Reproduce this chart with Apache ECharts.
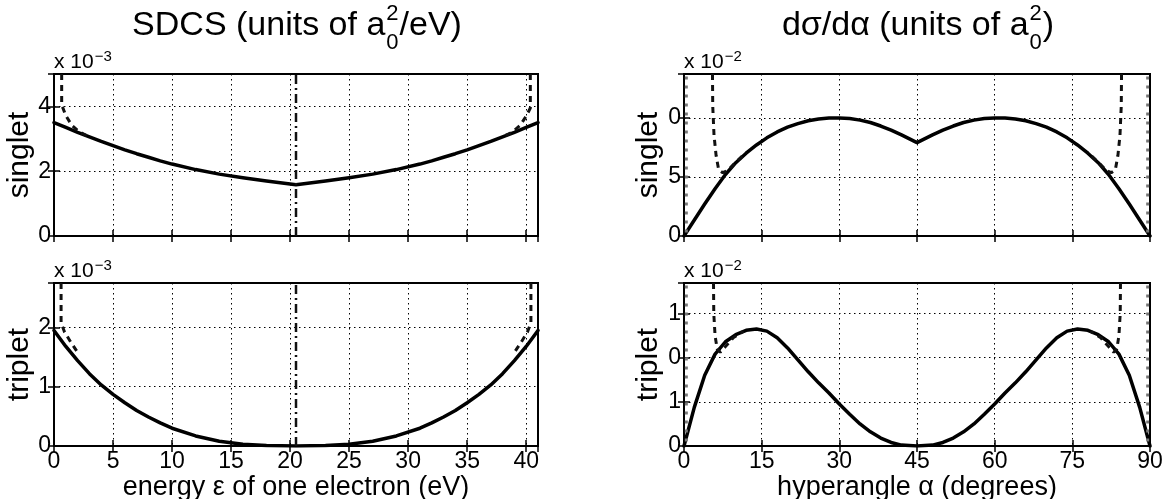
<!DOCTYPE html>
<html><head><meta charset="utf-8">
<script src="https://cdn.jsdelivr.net/npm/echarts@6.0.0/dist/echarts.min.js"></script>
<style>html,body{margin:0;padding:0;background:#fff}#c{width:1167px;height:499px}</style>
</head><body><div id="c"></div><script>
// ---------------- data ----------------
const energyTicks = [0, 5, 10, 15, 20, 25, 30, 35, 40];
const energyTickLabels = ['0', '5', '10', '15', '20', '25', '30', '35', '40'];
const energyMax = 41;
const energyMid = 20.5;

const sdcsSingletTicks = [0, 2, 4];
const sdcsSingletTickLabels = ['0', '2', '4'];
const sdcsSingletMax = 5;
const sdcsTripletTicks = [0, 1, 2];
const sdcsTripletTickLabels = ['0', '1', '2'];
const sdcsTripletMax = 2.75;

const energyX = [0, 1, 2, 3, 4, 5, 6, 7, 8, 9, 10, 12, 14, 16, 18, 20.5, 23, 25, 27, 29, 31, 32, 33, 34, 35, 36, 37, 38, 39, 40, 41];
const sdcsSingletY = [3.50, 3.35, 3.20, 3.06, 2.92, 2.79, 2.66, 2.54, 2.43, 2.32, 2.22, 2.05, 1.91, 1.80, 1.70, 1.58, 1.70, 1.80, 1.91, 2.05, 2.22, 2.32, 2.43, 2.54, 2.66, 2.79, 2.92, 3.06, 3.20, 3.35, 3.50];
const sdcsTripletY = [1.95, 1.68, 1.44, 1.22, 1.03, 0.87, 0.73, 0.60, 0.49, 0.39, 0.30, 0.17, 0.08, 0.03, 0.008, 0, 0.008, 0.03, 0.08, 0.17, 0.30, 0.39, 0.49, 0.60, 0.73, 0.87, 1.03, 1.22, 1.44, 1.68, 1.95];

const sdcsSingletDashLX = [0.65, 0.65, 1.0, 1.5, 2.2, 3.0];
const sdcsSingletDashLY = [5.0, 4.05, 3.72, 3.42, 3.20, 3.06];
const sdcsSingletDashRX = [40.35, 40.35, 40.0, 39.5, 38.8, 38.0];
const sdcsSingletDashRY = [5.0, 3.95, 3.70, 3.42, 3.20, 3.06];
const sdcsTripletDashLX = [0.6, 0.6, 0.9, 1.4, 2.0];
const sdcsTripletDashLY = [2.75, 2.08, 1.92, 1.76, 1.58];
const sdcsTripletDashRX = [40.4, 40.4, 40.1, 39.6, 39.0];
const sdcsTripletDashRY = [2.75, 2.08, 1.92, 1.76, 1.58];

const angleTicks = [0, 15, 30, 45, 60, 75, 90];
const angleTickLabels = ['0', '15', '30', '45', '60', '75', '90'];
const angleMax = 90;

const dsSingletTicks = [0, 5, 10];
const dsSingletTickLabels = ['0', '5', '0'];
const dsSingletMax = 13.7;
const dsTripletTicks = [0, 1, 2, 3];
const dsTripletTickLabels = ['0', '1', '0', '1'];
const dsTripletMax = 3.69;

const angleX = [0, 2, 4, 6, 8, 10, 12, 14, 16, 18, 20, 22, 24, 26, 28, 30, 32, 34, 36, 38, 40, 42, 45, 48, 50, 52, 54, 56, 58, 60, 62, 64, 66, 68, 70, 72, 74, 76, 78, 80, 82, 84, 86, 88, 90];
const dsSingletY = [0, 1.35, 2.7, 4.0, 5.2, 6.2, 7.0, 7.7, 8.3, 8.8, 9.2, 9.5, 9.75, 9.9, 9.97, 9.98, 9.93, 9.8, 9.6, 9.3, 8.95, 8.55, 7.9, 8.55, 8.95, 9.3, 9.6, 9.8, 9.93, 9.98, 9.97, 9.9, 9.75, 9.5, 9.2, 8.8, 8.3, 7.7, 7.0, 6.2, 5.2, 4.0, 2.7, 1.35, 0];
const dsTripletY = [0, 0.88, 1.6, 2.08, 2.36, 2.52, 2.62, 2.65, 2.6, 2.45, 2.22, 1.95, 1.68, 1.43, 1.2, 0.95, 0.72, 0.5, 0.32, 0.18, 0.08, 0.02, 0, 0.02, 0.08, 0.18, 0.32, 0.5, 0.72, 0.95, 1.2, 1.43, 1.68, 1.95, 2.22, 2.45, 2.6, 2.65, 2.62, 2.52, 2.36, 2.08, 1.6, 0.88, 0];

const dsSingletDashLX = [5.5, 5.55, 5.8, 6.2, 6.7, 7.5, 8.5, 10, 12];
const dsSingletDashLY = [13.7, 11, 8.5, 6.8, 5.6, 5.35, 5.55, 6.25, 7.05];
const dsSingletDashRX = [84.5, 84.45, 84.2, 83.8, 83.3, 82.5, 81.5, 80, 78];
const dsSingletDashRY = [13.7, 11, 8.5, 6.8, 5.6, 5.35, 5.55, 6.25, 7.05];
const dsTripletDashLX = [5.7, 5.75, 6.0, 6.4, 7.0, 8.0, 9.5, 11.5];
const dsTripletDashLY = [3.69, 3.0, 2.5, 2.2, 2.12, 2.25, 2.45, 2.6];
const dsTripletDashRX = [84.3, 84.25, 84.0, 83.6, 83.0, 82.0, 80.5, 78.5];
const dsTripletDashRY = [3.69, 3.0, 2.5, 2.2, 2.12, 2.25, 2.45, 2.6];
const edgeAngles = [0.45, 89.55];

// ---------------- chart ----------------
const FONT = "'Liberation Sans', Arial, Helvetica, sans-serif";
const zip = (xs, ys) => xs.map((x, i) => [x, ys[i]]);
const fmt = (ticks, labels) => v => {
  const i = ticks.findIndex(t => Math.abs(t - v) < 1e-6);
  return i < 0 ? '' : labels[i];
};

const L = 54, LW = 484, R = 684, RW = 466;
const T1 = 74, H1 = 162, T2 = 283, H2 = 163;
const grids = [
  {left: L, top: T1, width: LW, height: H1},
  {left: L, top: T2, width: LW, height: H2},
  {left: R, top: T1, width: RW, height: H1},
  {left: R, top: T2, width: RW, height: H2}
].map(g => Object.assign(g, {show: true, borderColor: '#000', borderWidth: 2, containLabel: false, outerBoundsMode: 'none'}));

const xSpec = [
  {max: energyMax, interval: 5, ticks: energyTicks, labels: energyTickLabels, show: false, name: ''},
  {max: energyMax, interval: 5, ticks: energyTicks, labels: energyTickLabels, show: true, name: 'energy \u03B5 of one electron (eV)'},
  {max: angleMax, interval: 15, ticks: angleTicks, labels: angleTickLabels, show: false, name: ''},
  {max: angleMax, interval: 15, ticks: angleTicks, labels: angleTickLabels, show: true, name: 'hyperangle \u03B1 (degrees)'}
];
const ySpec = [
  {max: sdcsSingletMax, interval: 2, ticks: sdcsSingletTicks, labels: sdcsSingletTickLabels, name: 'singlet', exp: '\u22123', gap: 16},
  {max: sdcsTripletMax, interval: 1, ticks: sdcsTripletTicks, labels: sdcsTripletTickLabels, name: 'triplet', exp: '\u22123', gap: 16},
  {max: dsSingletMax, interval: 5, ticks: dsSingletTicks, labels: dsSingletTickLabels, name: 'singlet', exp: '\u22122', gap: 20},
  {max: dsTripletMax, interval: 1, ticks: dsTripletTicks, labels: dsTripletTickLabels, name: 'triplet', exp: '\u22122', gap: 20}
];

const gridLine = {show: true, lineStyle: {color: '#000', width: 1, type: [1.5, 3.5]}};
const tick = {show: true, inside: true, length: 6, lineStyle: {color: '#000', width: 1.5}};
const xAxes = [], yAxes = [];
xSpec.forEach((s, i) => {
  xAxes.push({
    type: 'value', gridIndex: i, min: 0, max: s.max, interval: s.interval,
    axisLine: {show: false}, axisTick: tick,
    splitLine: gridLine,
    axisLabel: {show: s.show, formatter: fmt(s.ticks, s.labels), color: '#000', fontFamily: FONT, fontSize: 23, margin: 4},
    name: s.name, nameLocation: 'middle', nameGap: 25,
    nameTextStyle: {color: '#000', fontFamily: FONT, fontSize: 27, verticalAlign: 'top'}
  });
  xAxes.push({
    type: 'value', gridIndex: i, min: 0, max: s.max, interval: s.interval, position: 'top',
    axisLine: {show: false}, axisTick: tick,
    splitLine: {show: false}, axisLabel: {show: false}
  });
});
ySpec.forEach((s, i) => {
  yAxes.push({
    type: 'value', gridIndex: i, min: 0, max: s.max, interval: s.interval,
    axisLine: {show: false}, axisTick: tick,
    splitLine: gridLine,
    axisLabel: {formatter: fmt(s.ticks, s.labels), color: '#000', fontFamily: FONT, fontSize: 23, margin: 3},
    name: s.name, nameLocation: 'middle', nameGap: s.gap, nameRotate: 90,
    nameTextStyle: {color: '#000', fontFamily: FONT, fontSize: 30}
  });
  yAxes.push({
    type: 'value', gridIndex: i, min: 0, max: s.max, interval: s.interval, position: 'right',
    axisLine: {show: false}, axisTick: tick,
    splitLine: {show: false}, axisLabel: {show: false}
  });
});

function line(gi, data, kind) {
  const base = {type: 'line', xAxisIndex: gi * 2, yAxisIndex: gi * 2, data: data, showSymbol: false, symbol: 'none', silent: true, animation: false, z: 3};
  if (kind === 'solid') base.lineStyle = {color: '#000', width: 3.5, type: 'solid', cap: 'round', join: 'round'};
  if (kind === 'dash') base.lineStyle = {color: '#111', width: 3, type: [6, 5]};
  if (kind === 'dashdot') base.lineStyle = {color: '#111', width: 2.5, type: [9, 4, 2, 4]};
  if (kind === 'edge') base.lineStyle = {color: '#777', width: 3, type: [3, 6]};
  return base;
}
const series = [
  line(0, zip(energyX, sdcsSingletY), 'solid'),
  line(0, zip(sdcsSingletDashLX, sdcsSingletDashLY), 'dash'),
  line(0, zip(sdcsSingletDashRX, sdcsSingletDashRY), 'dash'),
  line(0, [[energyMid, 0], [energyMid, sdcsSingletMax]], 'dashdot'),
  line(1, zip(energyX, sdcsTripletY), 'solid'),
  line(1, zip(sdcsTripletDashLX, sdcsTripletDashLY), 'dash'),
  line(1, zip(sdcsTripletDashRX, sdcsTripletDashRY), 'dash'),
  line(1, [[energyMid, 0], [energyMid, sdcsTripletMax]], 'dashdot'),
  line(2, zip(angleX, dsSingletY), 'solid'),
  line(2, zip(dsSingletDashLX, dsSingletDashLY), 'dash'),
  line(2, zip(dsSingletDashRX, dsSingletDashRY), 'dash'),
  line(2, [[edgeAngles[0], 0.3], [edgeAngles[0], dsSingletMax]], 'edge'),
  line(2, [[edgeAngles[1], 0.3], [edgeAngles[1], dsSingletMax]], 'edge'),
  line(3, zip(angleX, dsTripletY), 'solid'),
  line(3, zip(dsTripletDashLX, dsTripletDashLY), 'dash'),
  line(3, zip(dsTripletDashRX, dsTripletDashRY), 'dash'),
  line(3, [[edgeAngles[0], 0.1], [edgeAngles[0], dsTripletMax]], 'edge'),
  line(3, [[edgeAngles[1], 0.1], [edgeAngles[1], dsTripletMax]], 'edge')
];

// text helpers (titles with stacked super/subscript, "x 10^n" multipliers)
const ctx = document.createElement('canvas').getContext('2d');
function tw(text, size) { ctx.font = size + 'px ' + FONT; return ctx.measureText(text).width; }
const st = (text, x, y, fs, va) => ({type: 'text', silent: true, style: {text: text, x: x, y: y, fill: '#000', font: fs + 'px ' + FONT, align: 'left', verticalAlign: va || 'middle'}});
function title(cx, cy, pre, sup, sub, post, size, ss) {
  const w1 = tw(pre, size), w2 = Math.max(tw(sup, ss), tw(sub, ss)), w3 = tw(post, size);
  const x0 = cx - (w1 + w2 + w3) / 2;
  return [
    st(pre, x0, cy, size),
    st(sup, x0 + w1 + 1, cy - 12, ss),
    st(sub, x0 + w1 + 1, cy + 17, ss),
    st(post, x0 + w1 + w2 + 2, cy, size)
  ];
}
function multiplier(x, yBottom, exp) {
  const base = 'x 10', fs = 21, es = 15;
  return [st(base, x, yBottom, fs, 'bottom'), st(exp, x + tw(base, fs) + 1, yBottom - 9, es, 'bottom')];
}
const graphics = [].concat(
  title(L + LW / 2, 26, 'SDCS (units of a', '2', '0', '/eV)', 34, 22),
  title(R + RW / 2, 26, 'd\u03C3/d\u03B1 (units of a', '2', '0', ')', 34, 22),
  multiplier(L, T1 - 1, ySpec[0].exp),
  multiplier(L, T2 - 1, ySpec[1].exp),
  multiplier(R, T1 - 1, ySpec[2].exp),
  multiplier(R, T2 - 1, ySpec[3].exp)
);

const chart = echarts.init(document.getElementById('c'), null, {renderer: 'canvas'});
chart.setOption({
  backgroundColor: '#fff',
  animation: false,
  grid: grids,
  xAxis: xAxes,
  yAxis: yAxes,
  series: series,
  graphic: graphics
});
</script></body></html>
